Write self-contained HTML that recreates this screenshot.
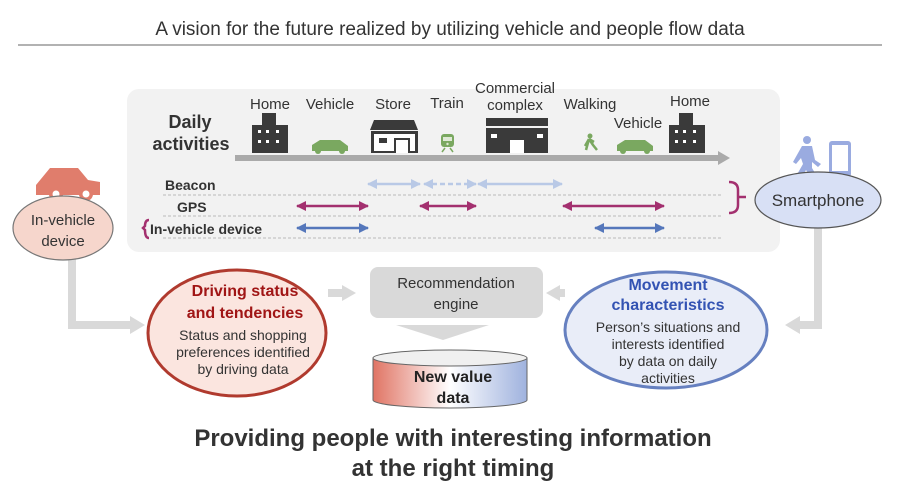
<!DOCTYPE html>
<html><head><meta charset="utf-8"><style>html,body{margin:0;padding:0;background:#fff}svg{display:block}text{font-family:"Liberation Sans",sans-serif}</style></head><body>
<svg width="900" height="500" viewBox="0 0 900 500" xmlns="http://www.w3.org/2000/svg">
<defs>
<linearGradient id="cyl" x1="0" x2="1" y1="0" y2="0"><stop offset="0" stop-color="#e07464"/><stop offset="0.5" stop-color="#fff"/><stop offset="1" stop-color="#9fb2de"/></linearGradient>
<marker id="ab" viewBox="0 0 10 10" refX="9" refY="5" markerWidth="4" markerHeight="4" orient="auto-start-reverse"><path d="M0,0L10,5L0,10z" fill="#b9c9e6"/></marker>
<marker id="ap" viewBox="0 0 10 10" refX="9" refY="5" markerWidth="4" markerHeight="4" orient="auto-start-reverse"><path d="M0,0L10,5L0,10z" fill="#a3306f"/></marker>
<marker id="av" viewBox="0 0 10 10" refX="9" refY="5" markerWidth="4" markerHeight="4" orient="auto-start-reverse"><path d="M0,0L10,5L0,10z" fill="#5577bb"/></marker>
</defs>
<text x="450" y="35" font-size="19" fill="#333" text-anchor="middle">A vision for the future realized by utilizing vehicle and people flow data</text>
<line x1="18" y1="45" x2="882" y2="45" stroke="#666" stroke-width="1"/>
<rect x="127" y="89" width="653" height="163" rx="12" fill="#f2f2f2"/>
<text font-size="18" font-weight="bold" fill="#333" text-anchor="middle"><tspan x="190" y="128">Daily</tspan><tspan x="191" y="150">activities</tspan></text>
<rect x="235" y="155" width="484" height="6" fill="#aaa"/><path d="M718,151L730,158L718,165z" fill="#aaa"/>
<g font-size="15" fill="#333" text-anchor="middle">
<text x="270" y="109">Home</text><text x="330" y="109">Vehicle</text><text x="393" y="109">Store</text><text x="447" y="108">Train</text>
<text x="515" y="93">Commercial</text><text x="515" y="110">complex</text><text x="590" y="109">Walking</text><text x="638" y="128">Vehicle</text><text x="690" y="106">Home</text></g>
<g fill="#3a3a3a"><rect x="252" y="125" width="36" height="28"/><rect x="262" y="113" width="14" height="14"/>
<rect x="669" y="125" width="36" height="28"/><rect x="679" y="113" width="14" height="14"/>
<rect x="486" y="128" width="62" height="25"/><rect x="486" y="118" width="62" height="8"/>
<path d="M370,130L374,120L414,120L418,130z"/><rect x="371" y="131" width="47" height="22"/></g>
<g fill="#fff"><rect x="258" y="130" width="3" height="3"/><rect x="266" y="130" width="3" height="3"/><rect x="276" y="130" width="3" height="3"/><rect x="258" y="140" width="3" height="3"/><rect x="266" y="140" width="3" height="3"/><rect x="276" y="140" width="3" height="3"/>
<rect x="675" y="130" width="3" height="3"/><rect x="683" y="130" width="3" height="3"/><rect x="693" y="130" width="3" height="3"/><rect x="675" y="140" width="3" height="3"/><rect x="683" y="140" width="3" height="3"/><rect x="693" y="140" width="3" height="3"/>
<rect x="491" y="134" width="6" height="4"/><rect x="537" y="134" width="6" height="4"/><rect x="510" y="140" width="14" height="13"/>
<rect x="374" y="134" width="41" height="17"/></g>
<rect x="379" y="138" width="8" height="5" fill="#3a3a3a"/><rect x="394" y="138" width="16" height="15" fill="#3a3a3a"/><rect x="396" y="140" width="12" height="13" fill="#fff"/>
<g fill="#7aa860"><path d="M312,145L320,140L340,140L348,146L348,151L312,151z"/><circle cx="318" cy="151" r="3"/><circle cx="342" cy="151" r="3"/>
<path d="M617,145L625,140L645,140L653,146L653,151L617,151z"/><circle cx="623" cy="151" r="3"/><circle cx="647" cy="151" r="3"/>
<rect x="441" y="134" width="13" height="13" rx="3"/><circle cx="590" cy="136" r="2.5"/><path d="M589,139L585,146M589,139L593,145L597,150M589,139L586,150M589,139L594,142" stroke="#7aa860" stroke-width="2.5"/>
<path d="M442,152L445,148M453,152L450,148" stroke="#7aa860" stroke-width="1.5"/></g>
<rect x="443" y="137" width="9" height="4" fill="#dfe9d6"/><circle cx="447.5" cy="144" r="1.2" fill="#dfe9d6"/>
<g stroke="#bbb" stroke-dasharray="3,2" stroke-width="1"><line x1="163" y1="195" x2="722" y2="195"/><line x1="163" y1="216" x2="722" y2="216"/><line x1="163" y1="238" x2="722" y2="238"/></g>
<g font-size="14" font-weight="bold" fill="#333"><text x="165" y="190">Beacon</text><text x="177" y="212">GPS</text><text x="150" y="234">In-vehicle device</text></g>
<g stroke-width="2.5" fill="none">
<line x1="368" y1="184" x2="420" y2="184" stroke="#b9c9e6" marker-start="url(#ab)" marker-end="url(#ab)"/>
<line x1="424" y1="184" x2="476" y2="184" stroke="#b9c9e6" stroke-dasharray="5,3" marker-start="url(#ab)" marker-end="url(#ab)"/>
<line x1="478" y1="184" x2="562" y2="184" stroke="#b9c9e6" marker-start="url(#ab)" marker-end="url(#ab)"/>
<line x1="297" y1="206" x2="368" y2="206" stroke="#a3306f" marker-start="url(#ap)" marker-end="url(#ap)"/>
<line x1="420" y1="206" x2="476" y2="206" stroke="#a3306f" marker-start="url(#ap)" marker-end="url(#ap)"/>
<line x1="563" y1="206" x2="664" y2="206" stroke="#a3306f" marker-start="url(#ap)" marker-end="url(#ap)"/>
<line x1="297" y1="228" x2="368" y2="228" stroke="#5577bb" marker-start="url(#av)" marker-end="url(#av)"/>
<line x1="595" y1="228" x2="664" y2="228" stroke="#5577bb" marker-start="url(#av)" marker-end="url(#av)"/>
<path d="M729,182Q738,182 738,190L738,197L746,197L738,197L738,205Q738,213 729,213" stroke="#a3306f"/>
<path d="M149,220Q145,220 145,226L143,228L145,230Q145,238 149,238" stroke="#a3306f"/>
</g>
<g stroke="#d9d9d9" stroke-width="8" fill="none"><path d="M72,258L72,325L132,325"/><path d="M818,226L818,325L798,325"/><path d="M328,293L343,293"/><path d="M565,293L558,293"/></g>
<g fill="#d9d9d9"><path d="M130,316L145,325L130,334z"/><path d="M800,316L785,325L800,334z"/><path d="M342,285L356,293L342,301z"/><path d="M560,285L546,293L560,301z"/><path d="M396,325L489,325L443,340z"/></g>
<g fill="#e07d6c"><path d="M36,185L50,168L78,168L88,180L100,182L100,195L36,195z"/><circle cx="56" cy="194" r="7"/><circle cx="86" cy="194" r="7"/></g>
<circle cx="56" cy="194" r="3.5" fill="#fff"/><circle cx="86" cy="194" r="3.5" fill="#fff"/>
<ellipse cx="63" cy="228" rx="50" ry="32" fill="#f6d6cc" stroke="#777" stroke-width="1.2"/>
<text font-size="15" fill="#333" text-anchor="middle"><tspan x="63" y="225">In-vehicle</tspan><tspan x="63" y="246">device</tspan></text>
<g fill="#9aabe0"><circle cx="807" cy="140" r="4"/><path d="M802,146L812,146L815,160L821,164L818,167L812,162L812,168L818,178L813,180L806,170L800,180L795,178L803,164L801,158L796,164L793,162z"/><rect x="829" y="141" width="22" height="36" rx="3"/></g>
<rect x="832" y="145" width="16" height="26" fill="#fff"/>
<ellipse cx="818" cy="200" rx="63" ry="28" fill="#d8e0f5" stroke="#555" stroke-width="1.2"/>
<text x="818" y="206" font-size="17" fill="#333" text-anchor="middle">Smartphone</text>
<ellipse cx="237" cy="333" rx="89" ry="63" fill="#fbe5df" stroke="#b03a2e" stroke-width="3"/>
<text font-size="16" font-weight="bold" fill="#a01515" text-anchor="middle"><tspan x="245" y="296">Driving status</tspan><tspan x="245" y="318">and tendencies</tspan></text>
<text font-size="14" fill="#333" text-anchor="middle"><tspan x="243" y="340">Status and shopping</tspan><tspan x="243" y="357">preferences identified</tspan><tspan x="243" y="374">by driving data</tspan></text>
<rect x="370" y="267" width="173" height="51" rx="8" fill="#d9d9d9"/>
<text font-size="15" fill="#333" text-anchor="middle"><tspan x="456" y="288">Recommendation</tspan><tspan x="456" y="309">engine</tspan></text>
<path d="M373,358L373,400A77,8 0 0 0 527,400L527,358z" fill="url(#cyl)" stroke="#666" stroke-width="1"/>
<ellipse cx="450" cy="358" rx="77" ry="8" fill="#f0f0f0" stroke="#666" stroke-width="1"/>
<text font-size="16" font-weight="bold" fill="#222" text-anchor="middle"><tspan x="453" y="382">New value</tspan><tspan x="453" y="403">data</tspan></text>
<ellipse cx="666" cy="330" rx="101" ry="58" fill="#e9edf8" stroke="#6680c0" stroke-width="3"/>
<text font-size="16" font-weight="bold" fill="#3353b3" text-anchor="middle"><tspan x="668" y="290">Movement</tspan><tspan x="668" y="310">characteristics</tspan></text>
<text font-size="14" fill="#333" text-anchor="middle"><tspan x="668" y="332">Person’s situations and</tspan><tspan x="668" y="349">interests identified</tspan><tspan x="668" y="366">by data on daily</tspan><tspan x="668" y="383">activities</tspan></text>
<text font-size="24" font-weight="bold" fill="#333" text-anchor="middle"><tspan x="453" y="446">Providing people with interesting information</tspan><tspan x="453" y="476">at the right timing</tspan></text>
</svg>
</body></html>
